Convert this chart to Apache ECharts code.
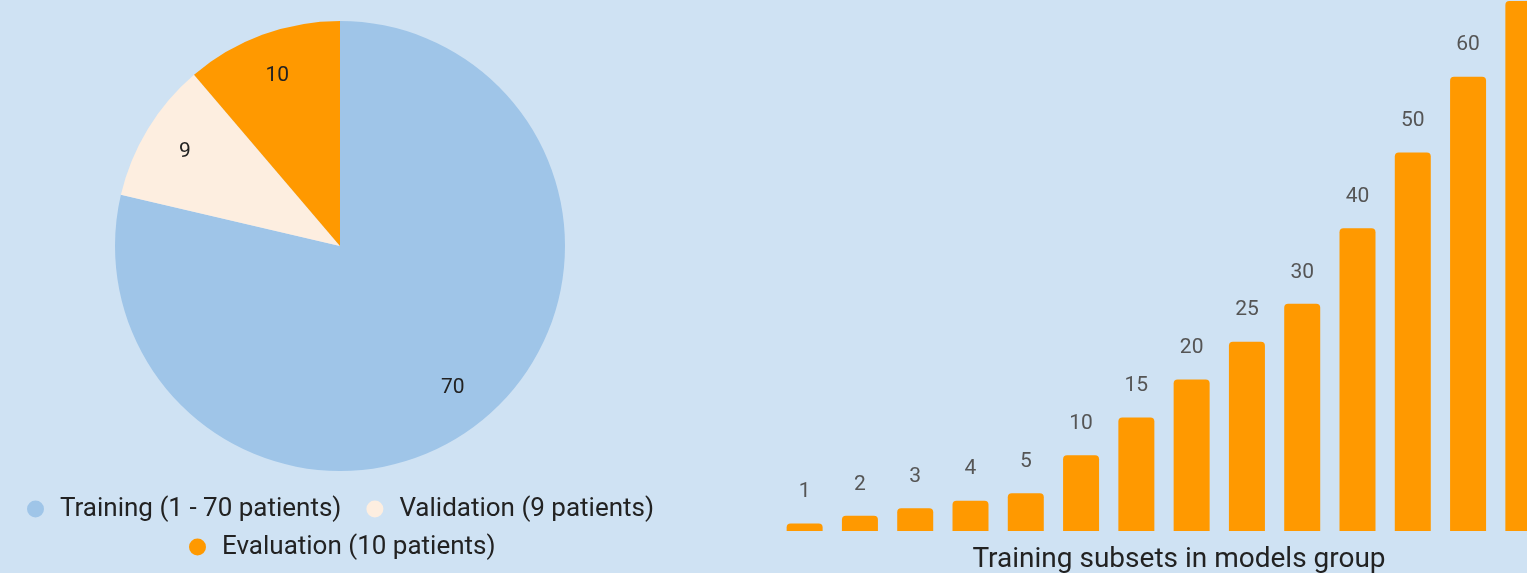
<!DOCTYPE html>
<html><head><meta charset="utf-8">
<script src="https://cdn.jsdelivr.net/npm/echarts@6/dist/echarts.min.js"></script>
<style>html,body{margin:0;padding:0;background:#cfe2f3;}#c{width:1527px;height:573px;}</style>
</head><body><div id="c"></div>
<script>
const pieNames = ['Training (1 - 70 patients)', 'Validation (9 patients)', 'Evaluation (10 patients)'];
const pieValues = [70, 9, 10];
const pieColors = ['#9fc5e8', '#fdeee0', '#ff9900'];
const barCategories = ['1','2','3','4','5','10','15','20','25','30','40','50','60','70'];
const barValues = [1,2,3,4,5,10,15,20,25,30,40,50,60,70];
const xAxisName = 'Training subsets in models group';

const font = 'Roboto, "Noto Sans", sans-serif';
const pieData = pieNames.map((n, i) => ({ name: n, value: pieValues[i], itemStyle: { color: pieColors[i] } }));

const legendCommon = {
  icon: 'circle', itemWidth: 17, itemHeight: 17, itemGap: 25,
  textStyle: { fontFamily: font, fontSize: 26, color: '#222', padding: [0, 0, 0, 11] }
};

const chart = echarts.init(document.getElementById('c'), null, { renderer: 'canvas' });
chart.setOption({
  backgroundColor: '#cfe2f3',
  animation: false,
  legend: [
    Object.assign({ data: pieNames.slice(0, 2), left: 22, top: 491 }, legendCommon),
    Object.assign({ data: pieNames.slice(2), left: 184, top: 529 }, legendCommon)
  ],
  grid: { left: 777, right: -24, top: 1, bottom: 42, containLabel: false, outerBoundsMode: 'none' },
  xAxis: {
    type: 'category', data: barCategories,
    axisLine: { show: false }, axisTick: { show: false }, axisLabel: { show: false },
    name: xAxisName, nameLocation: 'middle', nameGap: 15,
    nameTextStyle: { fontFamily: font, fontSize: 28, color: '#222', padding: [0, 0, 0, 30] }
  },
  yAxis: { type: 'value', min: 0, max: 70, show: false, splitLine: { show: false } },
  series: [
    {
      type: 'pie', center: [340, 246], radius: 225, startAngle: 90, clockwise: true,
      data: pieData, label: { show: false }, labelLine: { show: false }, silent: true
    },
    {
      type: 'pie', center: [340, 246], radius: [132, 225], startAngle: 90, clockwise: true,
      data: pieNames.map((n, i) => ({ name: n, value: pieValues[i] })),
      itemStyle: { color: 'rgba(0,0,0,0)' }, silent: true,
      label: { show: true, position: 'inside', formatter: '{c}', fontFamily: font, fontSize: 21, color: '#222' },
      labelLine: { show: false }
    },
    {
      type: 'bar', data: barValues, barWidth: 36,
      itemStyle: { color: '#ff9900', borderRadius: [4, 4, 0, 0] },
      label: { show: true, position: 'top', distance: 21, fontFamily: font, fontSize: 21, color: '#555' }
    }
  ]
});
</script></body></html>
